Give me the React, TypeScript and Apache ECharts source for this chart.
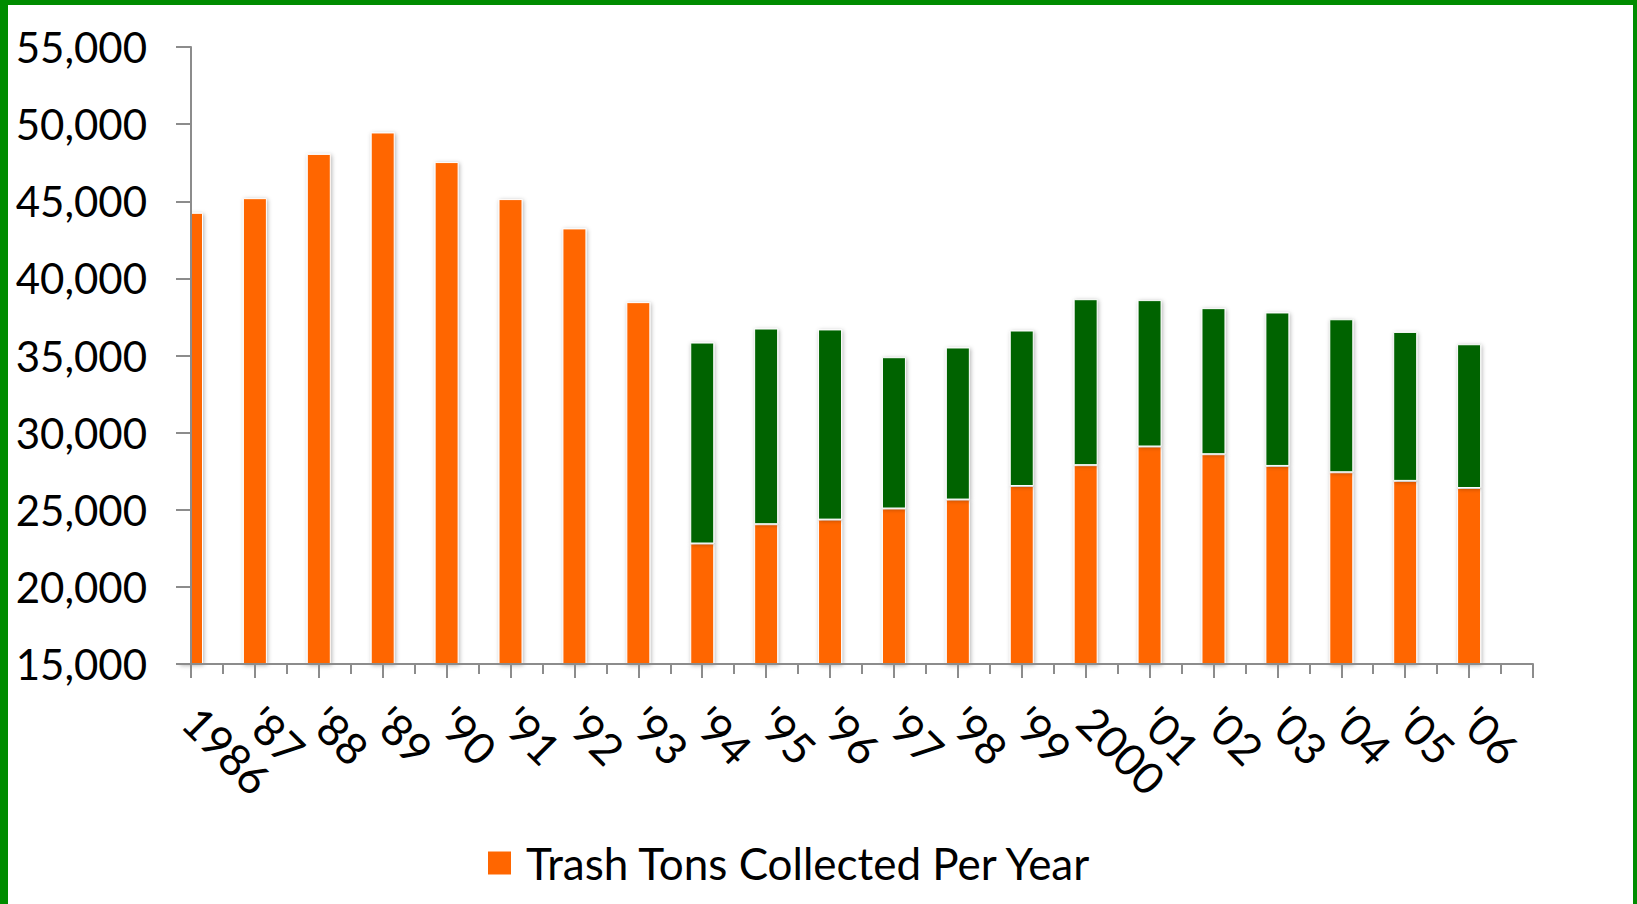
import React, { useEffect, useRef } from 'react';
import * as echarts from 'echarts';

const years = ['1986', "'87", "'88", "'89", "'90", "'91", "'92", "'93", "'94", "'95", "'96", "'97", "'98", "'99", '2000', "'01", "'02", "'03", "'04", "'05", "'06"];
const trashTons = [44250, 45200, 48070, 49460, 47540, 45140, 43240, 38460, 22810, 24060, 24360, 25080, 25660, 26540, 27890, 29100, 28600, 27840, 27430, 26870, 26410];
const greenTons = [null, null, null, null, null, null, null, null, 13030, 12690, 12330, 9810, 9860, 10080, 10760, 9490, 9470, 9950, 9920, 9660, 9320];
const yMin = 15000;
const yMax = 55000;
const yStep = 5000;
const legendLabel = 'Trash Tons Collected Per Year';
const greenLabel = 'Recycled';

export default function App() {
  const ref = useRef<HTMLDivElement>(null);
  useEffect(() => {
    const chart = echarts.init(ref.current!, null, { renderer: 'svg' });
    const font = 'Lato';
    const gray = '#8c8c8c';
    const categories = [...years, ''];
    const gridLeft = 191;
    const gridTop = 47;
    const gridBottomY = 664;
    const barStyle = (color: string) => ({
      color,
      borderColor: '#ffffff',
      borderWidth: 1,
      shadowBlur: 4,
      shadowColor: 'rgba(0,0,0,0.3)',
      shadowOffsetX: 1,
      shadowOffsetY: 1,
    });
    chart.setOption({
      animation: false,
      backgroundColor: '#ffffff',
      grid: { left: gridLeft, top: gridTop, right: 104, bottom: 904 - gridBottomY, containLabel: false, outerBoundsMode: 'none' },
      legend: {
        data: [legendLabel],
        left: 486,
        top: 841,
        padding: 0,
        icon: 'rect',
        itemWidth: 25,
        itemHeight: 25,
        textStyle: { fontFamily: font, fontSize: 44, color: '#000', padding: [0, 0, 0, 9] },
      },
      graphic: [
        // mask: hides the part of the first bar that lies left of the value axis
        { type: 'rect', z: 5, silent: true, shape: { x: gridLeft - 40, y: gridTop - 10, width: 40, height: gridBottomY - gridTop + 9 }, style: { fill: '#ffffff' } },
        { type: 'rect', z: 20, shape: { x: 0, y: 0, width: 1637, height: 5 }, style: { fill: '#008C00' } },
        { type: 'rect', z: 20, shape: { x: 0, y: 0, width: 8, height: 904 }, style: { fill: '#008C00' } },
        { type: 'rect', z: 20, shape: { x: 1633, y: 0, width: 4, height: 904 }, style: { fill: '#008C00' } },
      ],
      xAxis: [
        {
          type: 'category',
          data: categories,
          boundaryGap: false,
          position: 'bottom',
          z: 10,
          axisLine: { show: true, lineStyle: { color: gray, width: 2 } },
          axisTick: { show: true, interval: 0, length: 14, lineStyle: { color: gray, width: 2 } },
          axisLabel: { interval: 0, rotate: -45, margin: 50, fontFamily: font, fontSize: 44, color: '#000' },
          splitLine: { show: false },
        },
        {
          type: 'value',
          min: 0,
          max: categories.length - 1,
          interval: 1,
          position: 'bottom',
          z: 10,
          axisLine: { show: false },
          axisTick: { show: false },
          axisLabel: { show: false },
          splitLine: { show: false },
          minorTick: { show: true, splitNumber: 2, length: 10, lineStyle: { color: gray, width: 2 } },
          minorSplitLine: { show: false },
        },
      ],
      yAxis: {
        type: 'value',
        min: yMin,
        max: yMax,
        interval: yStep,
        z: 10,
        axisLine: { show: true, lineStyle: { color: gray, width: 2 } },
        axisTick: { show: true, length: 15, lineStyle: { color: gray, width: 2 } },
        axisLabel: {
          margin: 44,
          fontFamily: font,
          fontSize: 42,
          color: '#000',
          formatter: (v: number) => v.toLocaleString('en-US'),
        },
        splitLine: { show: false },
      },
      series: [
        { name: legendLabel, type: 'bar', stack: 'total', xAxisIndex: 0, z: 2, barWidth: 24, data: trashTons, itemStyle: barStyle('#FF6600') },
        { name: greenLabel, type: 'bar', stack: 'total', xAxisIndex: 0, z: 2, barWidth: 24, data: greenTons, itemStyle: barStyle('#006400') },
      ],
    });
    return () => chart.dispose();
  }, []);
  return <div ref={ref} style={{ position: 'fixed', left: 0, top: 0, width: 1637, height: 904 }} />;
}
